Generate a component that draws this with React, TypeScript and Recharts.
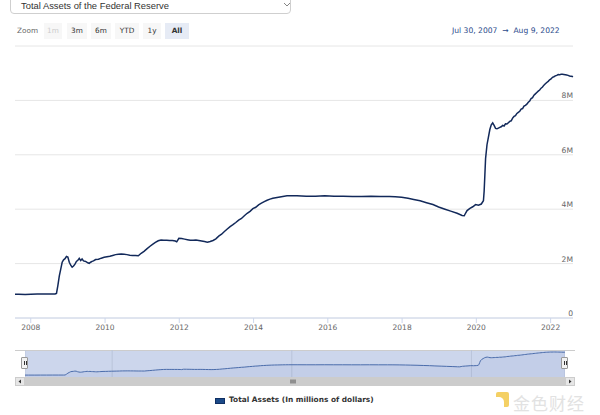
import React from "react";
import { LineChart, Line, AreaChart, Area, XAxis, YAxis, CartesianGrid } from "recharts";

// weekly H.4.1 readings, sampled
const weekDates = [
  "2007-07-30", "2007-09-05", "2007-11-07", "2008-01-02", "2008-03-05", "2008-05-07", "2008-07-02", "2008-08-27",
  "2008-09-10", "2008-09-24", "2008-10-08", "2008-10-22", "2008-11-05", "2008-11-19", "2008-12-03", "2008-12-17",
  "2008-12-31", "2009-01-14", "2009-01-28", "2009-02-11", "2009-02-25", "2009-03-11", "2009-03-25", "2009-04-08",
  "2009-04-22", "2009-05-06", "2009-05-20", "2009-06-03", "2009-06-17", "2009-07-01", "2009-07-15", "2009-07-29",
  "2009-08-12", "2009-08-26", "2009-09-09", "2009-09-30", "2009-10-28", "2009-11-25", "2009-12-23", "2010-01-20",
  "2010-02-17", "2010-03-17", "2010-04-14", "2010-05-12", "2010-06-09", "2010-07-07", "2010-08-04", "2010-09-01",
  "2010-09-29", "2010-10-27", "2010-11-24", "2010-12-22", "2011-01-19", "2011-02-16", "2011-03-16", "2011-04-13",
  "2011-05-11", "2011-06-08", "2011-07-06", "2011-08-03", "2011-08-31", "2011-09-28", "2011-10-26", "2011-11-23",
  "2011-12-07", "2011-12-28", "2012-01-25", "2012-02-22", "2012-03-21", "2012-04-18", "2012-05-16", "2012-06-13",
  "2012-07-11", "2012-08-08", "2012-09-05", "2012-10-03", "2012-10-31", "2012-11-28", "2012-12-26", "2013-01-23",
  "2013-02-20", "2013-03-20", "2013-04-17", "2013-05-15", "2013-06-12", "2013-07-10", "2013-08-07", "2013-09-04",
  "2013-10-02", "2013-10-30", "2013-11-27", "2013-12-25", "2014-01-22", "2014-02-19", "2014-03-19", "2014-04-16",
  "2014-05-14", "2014-06-11", "2014-07-09", "2014-08-06", "2014-09-03", "2014-10-01", "2014-10-29", "2014-11-26",
  "2014-12-24", "2015-03-04", "2015-06-03", "2015-09-02", "2015-12-02", "2016-03-02", "2016-06-01", "2016-08-31",
  "2016-11-30", "2017-03-01", "2017-05-31", "2017-08-30", "2017-10-25", "2017-12-27", "2018-02-28", "2018-04-25",
  "2018-06-27", "2018-08-29", "2018-10-31", "2018-12-26", "2019-02-27", "2019-04-24", "2019-06-26", "2019-08-14",
  "2019-09-04", "2019-09-18", "2019-10-02", "2019-10-30", "2019-11-27", "2019-12-25", "2020-01-22", "2020-02-19",
  "2020-03-11", "2020-03-18", "2020-03-25", "2020-04-01", "2020-04-15", "2020-04-29", "2020-05-13", "2020-05-27",
  "2020-06-10", "2020-06-24", "2020-07-08", "2020-07-22", "2020-08-05", "2020-08-19", "2020-09-02", "2020-09-16",
  "2020-09-30", "2020-10-14", "2020-10-28", "2020-11-11", "2020-11-25", "2020-12-09", "2020-12-23", "2021-01-06",
  "2021-01-20", "2021-02-03", "2021-02-17", "2021-03-03", "2021-03-17", "2021-03-31", "2021-04-14", "2021-04-28",
  "2021-05-12", "2021-05-26", "2021-06-09", "2021-06-23", "2021-07-07", "2021-07-21", "2021-08-04", "2021-08-18",
  "2021-09-01", "2021-09-15", "2021-09-29", "2021-10-13", "2021-10-27", "2021-11-10", "2021-11-24", "2021-12-08",
  "2021-12-22", "2022-01-05", "2022-01-19", "2022-02-02", "2022-02-16", "2022-03-02", "2022-03-16", "2022-03-30",
  "2022-04-13", "2022-04-27", "2022-05-11", "2022-05-25", "2022-06-08", "2022-06-22", "2022-07-06", "2022-07-20",
  "2022-08-03", "2022-08-09",
];

// billions of dollars
const totalAssetsBn = [
  869, 872, 866, 874, 878, 883, 879, 882,
  905, 1200, 1550, 1800, 2050, 2140, 2180, 2260,
  2240, 2050, 1940, 1870, 1910, 1980, 2080, 2120,
  2190, 2110, 2170, 2100, 2090, 2060, 2030, 2010,
  2050, 2080, 2100, 2150, 2160, 2200, 2230, 2250,
  2270, 2300, 2330, 2340, 2350, 2340, 2330, 2310,
  2300, 2300, 2290, 2380, 2450, 2540, 2630, 2710,
  2780, 2840, 2870, 2860, 2860, 2850, 2850, 2830,
  2800, 2930, 2920, 2900, 2880, 2860, 2860, 2870,
  2850, 2830, 2810, 2790, 2810, 2850, 2910, 3010,
  3080, 3180, 3270, 3360, 3430, 3510, 3600, 3660,
  3760, 3850, 3920, 4020, 4070, 4160, 4220, 4280,
  4330, 4370, 4400, 4420, 4440, 4460, 4480, 4490,
  4490, 4490, 4480, 4480, 4490, 4480, 4480, 4470,
  4470, 4480, 4470, 4470, 4460, 4440, 4400, 4360,
  4310, 4240, 4170, 4080, 4000, 3930, 3850, 3770,
  3760, 3860, 3950, 4030, 4090, 4170, 4150, 4190,
  4310, 4670, 5260, 5860, 6370, 6650, 6930, 7100,
  7170, 7080, 6970, 6960, 6980, 7010, 7030, 7080,
  7060, 7140, 7130, 7180, 7230, 7250, 7350, 7410,
  7440, 7520, 7560, 7600, 7680, 7700, 7790, 7820,
  7860, 7930, 7980, 8070, 8100, 8190, 8240, 8290,
  8340, 8380, 8450, 8490, 8560, 8610, 8660, 8700,
  8760, 8790, 8850, 8870, 8900, 8920, 8950, 8940,
  8960, 8960, 8950, 8940, 8930, 8920, 8900, 8890,
  8880, 8870,
];

const yTicks = [0, 2000000, 4000000, 6000000, 8000000, 10000000];
const yearTicks = ["2008-01-01", "2010-01-01", "2012-01-01", "2014-01-01", "2016-01-01", "2018-01-01", "2020-01-01", "2022-01-01"];
const navYearTicks = ["2010-01-01", "2015-01-01", "2020-01-01"];
const zoomButtons = ["1m", "3m", "6m", "YTD", "1y", "All"];

const data = weekDates.map((d, i) => ({ t: Date.parse(d), v: totalAssetsBn[i] * 1000 }));
const domainX = [data[0].t, data[data.length - 1].t];

const FONT = "'DejaVu Sans', Verdana, sans-serif";
const LINE = "#12295a";

const YTick = (props: any) => {
  const { x, y, payload } = props;
  if (payload.value >= 10000000) return null;
  const label = payload.value === 0 ? "0" : payload.value / 1000000 + "M";
  // labels sit inside the plot, just above each grid line
  return (
    <text x={x} y={y - 2} textAnchor="end" fontSize={7.6} fill="#666" fontFamily={FONT}>
      {label}
    </text>
  );
};

const NavTick = (props: any) => {
  const { x, y, payload } = props;
  return (
    <text x={x + 3} y={y - 3} fontSize={7.3} fill="#7f8aa3" fontFamily={FONT}>
      {new Date(payload.value).getUTCFullYear()}
    </text>
  );
};

export default function App() {
  return (
    <div style={{ position: "absolute", left: 0, top: 0, width: 600, height: 415, background: "#fff", overflow: "hidden", fontFamily: FONT }}>
      {/* series selector */}
      <div style={{ position: "absolute", left: 10, top: -12, width: 281, height: 26, border: "1px solid #cfcfcf", borderRadius: 4, boxSizing: "border-box" }} />
      <div style={{ position: "absolute", left: 21, top: 0, fontFamily: "'Liberation Sans', Arial, sans-serif", fontSize: 9.4, color: "#333" }}>
        Total Assets of the Federal Reserve
      </div>
      <svg style={{ position: "absolute", left: 283, top: 2 }} width={8} height={6}>
        <polyline points="1,1 4,4 7,1" fill="none" stroke="#777" strokeWidth={0.9} />
      </svg>

      {/* range selector */}
      <div style={{ position: "absolute", left: 17, top: 26, fontSize: 7.3, color: "#666" }}>Zoom</div>
      {zoomButtons.map((b, i) => {
        const lefts = [44, 67, 91, 115, 143, 165];
        const widths = [18, 20, 20, 24, 18, 24];
        const active = b === "All";
        const disabled = b === "1m";
        return (
          <div
            key={b}
            style={{
              position: "absolute",
              left: lefts[i],
              top: 23,
              width: widths[i],
              height: 16,
              lineHeight: "16px",
              textAlign: "center",
              fontSize: 7.3,
              background: active ? "#e6ebf5" : "#f7f7f7",
              color: disabled ? "#ccc" : "#333",
              fontWeight: active ? "bold" : "normal",
            }}
          >
            {b}
          </div>
        );
      })}
      <div style={{ position: "absolute", left: 452, top: 26, fontSize: 7.6, color: "#2b4a8b", whiteSpace: "nowrap" }}>
        Jul 30, 2007 &nbsp;→ &nbsp;Aug 9, 2022
      </div>

      {/* main chart */}
      <div style={{ position: "absolute", left: 0, top: 0 }}>
        <LineChart width={600} height={340} data={data} margin={{ top: 46, right: 26, left: 15, bottom: 2 }}>
          <CartesianGrid vertical={false} stroke="#e6e6e6" />
          <XAxis
            dataKey="t"
            type="number"
            scale="time"
            domain={domainX}
            ticks={yearTicks.map((d) => Date.parse(d))}
            tickFormatter={(v) => String(new Date(v).getUTCFullYear())}
            height={20}
            tickSize={5}
            tickMargin={2}
            stroke="#ccd6eb"
            tick={{ fontSize: 7.5, fill: "#666", fontFamily: FONT }}
          />
          <YAxis
            orientation="right"
            width={1}
            domain={[0, 10000000]}
            ticks={yTicks}
            axisLine={false}
            tickLine={false}
            tickSize={0}
            tickMargin={0}
            tick={YTick}
          />
          <Line type="linear" dataKey="v" stroke={LINE} strokeWidth={1.5} dot={false} isAnimationActive={false} />
        </LineChart>
      </div>

      {/* navigator */}
      <div style={{ position: "absolute", left: 15, top: 350, width: 560, height: 0, borderTop: "1px solid #cccccc" }} />
      <div style={{ position: "absolute", left: 25, top: 351, width: 540, height: 26, background: "#ccd6ec" }} />
      <div style={{ position: "absolute", left: 25, top: 350 }}>
        <AreaChart width={540} height={27} data={data} margin={{ top: 0, right: 0, left: 0, bottom: 0 }}>
          <CartesianGrid horizontal={false} stroke="#bac4da" />
          <XAxis
            dataKey="t"
            type="number"
            scale="time"
            domain={domainX}
            ticks={navYearTicks.map((d) => Date.parse(d))}
            height={0}
            axisLine={false}
            tickLine={false}
            tickSize={0}
            tickMargin={0}
            tick={<NavTick />}
          />
          <YAxis hide domain={[200000, 9660000]} />
          <Area
            type="linear"
            dataKey="v"
            stroke="#4a6cab"
            strokeWidth={1}
            fill="#335cad"
            fillOpacity={0.06}
            isAnimationActive={false}
          />
        </AreaChart>
      </div>
      {/* handles */}
      {[21, 561].map((l) => (
        <div key={l} style={{ position: "absolute", left: l, top: 357, width: 7, height: 12, background: "#f2f2f2", border: "1px solid #999", borderRadius: 1, boxSizing: "border-box" }}>
          <div style={{ position: "absolute", left: 1.5, top: 3, width: 0, height: 4, borderLeft: "1px solid #333" }} />
          <div style={{ position: "absolute", left: 3.5, top: 3, width: 0, height: 4, borderLeft: "1px solid #333" }} />
        </div>
      ))}
      {/* scrollbar */}
      <div style={{ position: "absolute", left: 15, top: 377, width: 560, height: 9, background: "#f2f2f2" }} />
      <div style={{ position: "absolute", left: 25, top: 377, width: 540, height: 9, background: "#cccccc" }} />
      <div style={{ position: "absolute", left: 15, top: 377, width: 10, height: 9, background: "#e6e6e6", border: "1px solid #ccc", boxSizing: "border-box" }} />
      <div style={{ position: "absolute", left: 565, top: 377, width: 10, height: 9, background: "#e6e6e6", border: "1px solid #ccc", boxSizing: "border-box" }} />
      <svg style={{ position: "absolute", left: 15, top: 377 }} width={560} height={9}>
        <polygon points="6,2.5 6,6.5 3.5,4.5" fill="#333" />
        <polygon points="554,2.5 554,6.5 556.5,4.5" fill="#333" />
        <line x1={276} y1={2.5} x2={276} y2={6.5} stroke="#333" strokeWidth={0.8} />
        <line x1={278} y1={2.5} x2={278} y2={6.5} stroke="#333" strokeWidth={0.8} />
        <line x1={280} y1={2.5} x2={280} y2={6.5} stroke="#333" strokeWidth={0.8} />
      </svg>

      {/* legend */}
      <div style={{ position: "absolute", left: 215, top: 398, width: 10, height: 6, background: "#1b4a88", border: "0.5px solid #0f2f63", boxSizing: "border-box" }} />
      <div style={{ position: "absolute", left: 229, top: 395, fontSize: 7.4, fontWeight: "bold", color: "#333", whiteSpace: "nowrap" }}>
        Total Assets (In millions of dollars)
      </div>

      {/* watermark */}
      <div style={{ position: "absolute", left: 496, top: 392, width: 13, height: 15, background: "#f3c84a", borderRadius: 2, opacity: 0.85 }}>
        <div style={{ position: "absolute", left: 0, top: 5, width: 8, height: 10, background: "#fff", borderTopRightRadius: 5 }} />
      </div>
      <div style={{ position: "absolute", left: 513, top: 390, fontFamily: "'Noto Sans CJK SC', sans-serif", fontSize: 17, color: "#e2e2e2", whiteSpace: "nowrap", letterSpacing: 1 }}>
        金色财经
      </div>
    </div>
  );
}
